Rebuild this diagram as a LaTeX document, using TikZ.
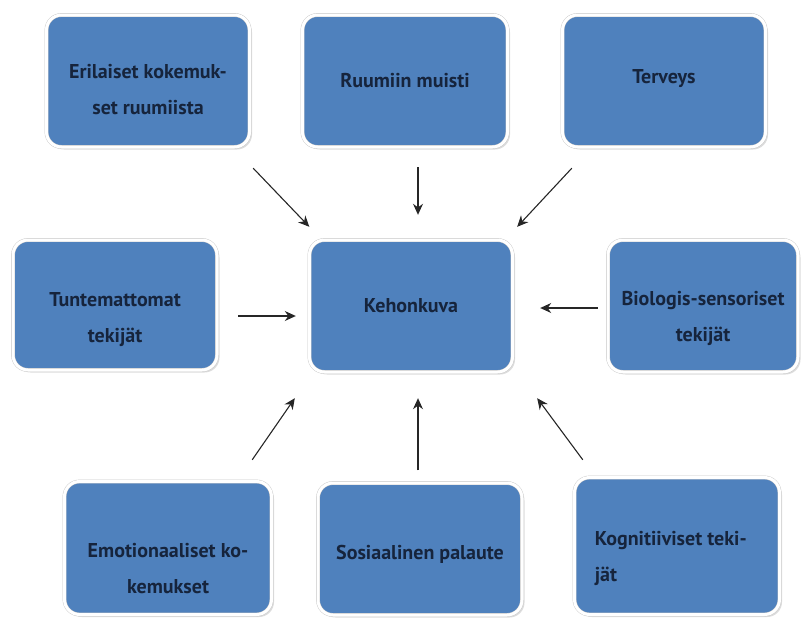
\documentclass[tikz,border=0pt]{standalone}
\usepackage{fontspec}
\setmainfont{PT Sans}
\usepackage{tikz}
\usetikzlibrary{shapes, arrows, arrows.meta, positioning, shadows}

\definecolor{boxblue}{RGB}{79,129,189}
\definecolor{inknavy}{RGB}{22,36,60}

\tikzset{
    factor/.style={rectangle, rounded corners=15pt, fill=boxblue, draw=gray!45,
        double=white, double distance=3pt, line width=0.4pt,
        drop shadow={shadow xshift=2.5pt, shadow yshift=-2.5pt, fill=gray!55},
        minimum width=#1, minimum height=132pt, inner sep=0pt},
    factor/.default=204pt,
    lbl/.style={text=inknavy, align=center, font=\fontsize{20}{36}\selectfont\bfseries},
    arr/.style={-{Stealth[length=11pt, width=10pt]}, line width=1.1pt, black!85}
}

\begin{document}
\begin{tikzpicture}[x=1pt, y=-1pt]
        \useasboundingbox (0,0) rectangle (803,619);

        % Boxes
        \node[factor=203pt] (erilaiset) at (148,81) {};
        \node[factor=205pt] (muisti) at (405,81) {};
        \node[factor=203pt] (terveys) at (664,81) {};
        \node[factor=204pt, minimum height=130pt] (tuntemattomat) at (115,305) {};
        \node[factor=203pt] (kehonkuva) at (411,306) {};
        \node[factor=190pt] (biologis) at (703,306) {};
        \node[factor=207pt, minimum height=133pt] (emotionaaliset) at (168,548) {};
        \node[factor=204pt] (sosiaalinen) at (420,549) {};
        \node[factor=205pt, minimum height=137pt] (kognitiiviset) at (677,546) {};

        % Texts
        \node[lbl] (t-erilaiset) at ([yshift=-9pt]erilaiset.center) {Erilaiset kokemuk-\\set ruumiista};
        \node[lbl] (t-muisti) at (muisti.center) {Ruumiin muisti};
        \node[lbl] (t-terveys) at ([yshift=2pt]terveys.center) {Terveys};
        \node[lbl] (t-tuntemattomat) at ([yshift=-15pt]tuntemattomat.center) {Tuntemattomat\\tekijät};
        \node[lbl] (t-kehonkuva) at (kehonkuva.center) {Kehonkuva};
        \node[lbl] (t-biologis) at ([yshift=-12.5pt]biologis.center) {Biologis-sensoriset\\tekijät};
        \node[lbl] (t-emotionaaliset) at ([yshift=-21pt]emotionaaliset.center) {Emotionaaliset ko-\\kemukset};
        \node[lbl] (t-sosiaalinen) at ([yshift=-5pt]sosiaalinen.center) {Sosiaalinen palaute};
        \node[lbl, align=left, anchor=west] (t-kognitiiviset) at ([xshift=17pt, yshift=-12.5pt]kognitiiviset.west) {Kognitiiviset teki-\\jät};

        % Arrows
        \draw[arr] ([shift={(3.5,21)}]erilaiset.south east) -- ([shift={(0,-13)}]kehonkuva.north west);
        \draw[arr] ([shift={(13,20)}]muisti.south) -- ([shift={(7,-25)}]kehonkuva.north);
        \draw[arr] ([shift={(9.5,21)}]terveys.south west) -- ([shift={(4.5,-13)}]kehonkuva.north east);
        \draw[arr] ([shift={(21,11)}]tuntemattomat.east) -- ([shift={(-13.5,10)}]kehonkuva.west);
        \draw[arr] ([shift={(-10,2)}]biologis.west) -- ([shift={(27.5,2)}]kehonkuva.east);
        \draw[arr] ([shift={(-19.5,-21.5)}]emotionaaliset.north east) -- ([shift={(-14.5,26)}]kehonkuva.south west);
        \draw[arr] ([shift={(-2,-12.5)}]sosiaalinen.north) -- ([shift={(7,26)}]kehonkuva.south);
        \draw[arr] ([shift={(8.5,-17.5)}]kognitiiviset.north west) -- ([shift={(24.5,26)}]kehonkuva.south east);
    \end{tikzpicture}
\end{document}
